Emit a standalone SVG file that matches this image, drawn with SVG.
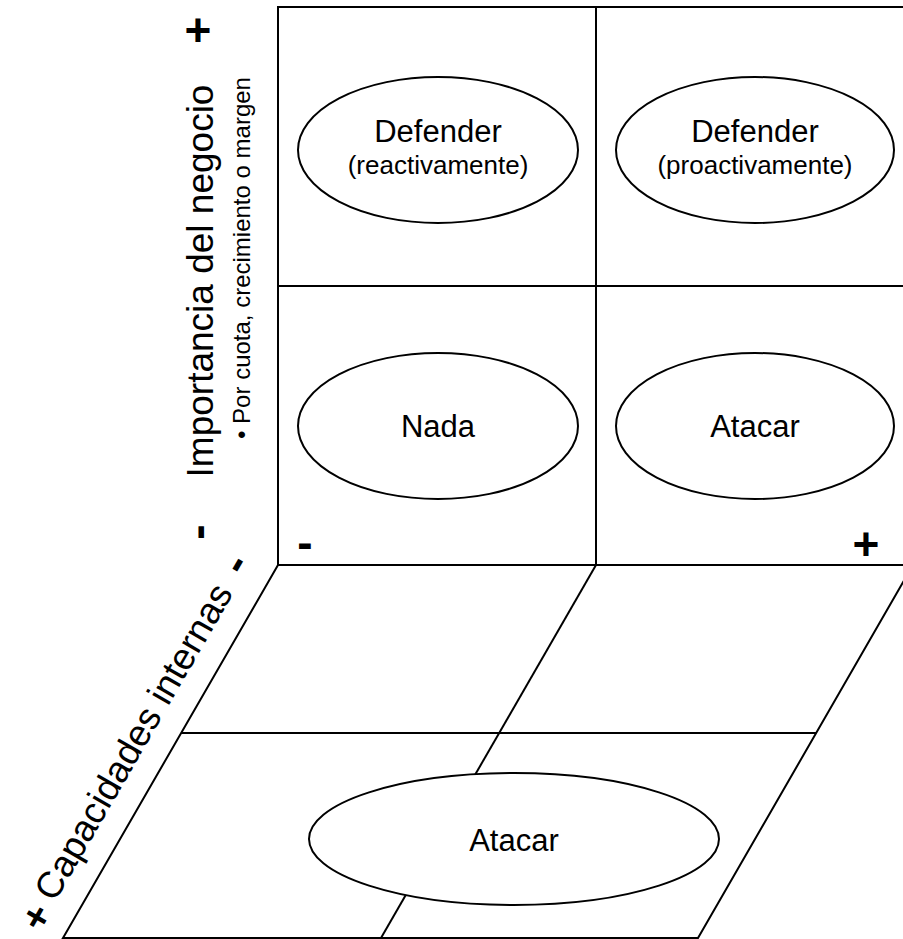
<svg xmlns="http://www.w3.org/2000/svg" width="903" height="939" viewBox="0 0 903 939">
<style>
.ln{stroke:#000;stroke-width:2;fill:none}
.el{stroke:#000;stroke-width:2;fill:#fff}
text{font-family:"Liberation Sans",Arial,sans-serif;fill:#000}
.big{font-size:31px;text-anchor:middle}
.sub{font-size:26px;text-anchor:middle}
.ax{font-size:37px;text-anchor:middle}
.axs{font-size:24px;text-anchor:middle}
.pm{font-size:46px;font-weight:bold;text-anchor:middle}
.pms{font-size:40px;font-weight:bold;text-anchor:middle}
</style>
<rect width="903" height="939" fill="#fff"/>
<g id="connectors">
<rect class="ln" x="278" y="7" width="635" height="558"/>
<line class="ln" x1="596" y1="7" x2="596" y2="565"/>
<line class="ln" x1="278" y1="286" x2="913" y2="286"/>
<polygon class="ln" points="278,565 913,565 698,938 63,938"/>
<line class="ln" x1="596" y1="565" x2="381" y2="938"/>
<line class="ln" x1="181" y1="733" x2="816" y2="733"/>
</g>
<g id="n-def-reac">
<ellipse class="el" cx="438" cy="150" rx="140" ry="73"/>
<text class="big" x="438" y="142">Defender</text>
<text class="sub" x="438" y="174">(reactivamente)</text>
</g>
<g id="n-def-proac">
<ellipse class="el" cx="755" cy="150" rx="139" ry="73"/>
<text class="big" x="755" y="142">Defender</text>
<text class="sub" x="755" y="174">(proactivamente)</text>
</g>
<g id="n-nada">
<ellipse class="el" cx="438" cy="426" rx="140" ry="73"/>
<text class="big" x="438" y="437">Nada</text>
</g>
<g id="n-atacar">
<ellipse class="el" cx="755" cy="426" rx="139" ry="73"/>
<text class="big" x="755" y="437">Atacar</text>
</g>
<g id="n-atacar2">
<ellipse class="el" cx="514" cy="839" rx="205" ry="66"/>
<text class="big" x="514" y="851">Atacar</text>
</g>
<g id="axis-y">
<text class="ax" transform="translate(213,281) rotate(-90)">Importancia del negocio</text>
<text class="axs" transform="translate(250,258) rotate(-90)">• Por cuota, crecimiento o margen</text>
<text class="pm" x="198" y="46">+</text>
<text class="pm" transform="translate(213,532) rotate(-90)">-</text>
</g>
<g id="axis-x">
<text class="pm" x="305" y="558">-</text>
<text class="pm" x="866" y="560">+</text>
</g>
<g id="axis-z">
<text class="ax" transform="translate(144.3,748) rotate(-60)">Capacidades internas</text>
<text class="pms" transform="translate(48,924) rotate(-60)">+</text>
<text class="pm" transform="translate(248,571) rotate(-60)">-</text>
</g>
</svg>
